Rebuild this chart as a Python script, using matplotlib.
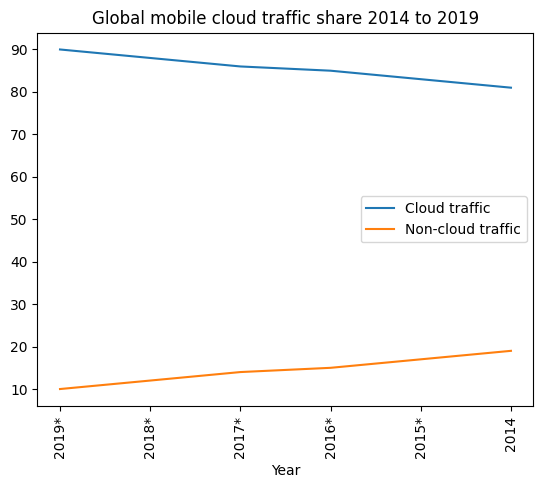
import matplotlib.pyplot as plt

years = ["2019*", "2018*", "2017*", "2016*", "2015*", "2014"]
cloud = [90, 88, 86, 85, 83, 81]
non_cloud = [10, 12, 14, 15, 17, 19]

fig, ax = plt.subplots(figsize=(5.43, 4.88), dpi=100)
fig.subplots_adjust(left=0.069, right=0.9825, top=0.9334, bottom=0.168)

ax.plot(years, cloud, label="Cloud traffic")
ax.plot(years, non_cloud, label="Non-cloud traffic")
ax.set_title("Global mobile cloud traffic share 2014 to 2019")
ax.set_xlabel("Year")
ax.tick_params(axis="x", rotation=90)
ax.legend(loc="center right")

plt.savefig("out.png")
